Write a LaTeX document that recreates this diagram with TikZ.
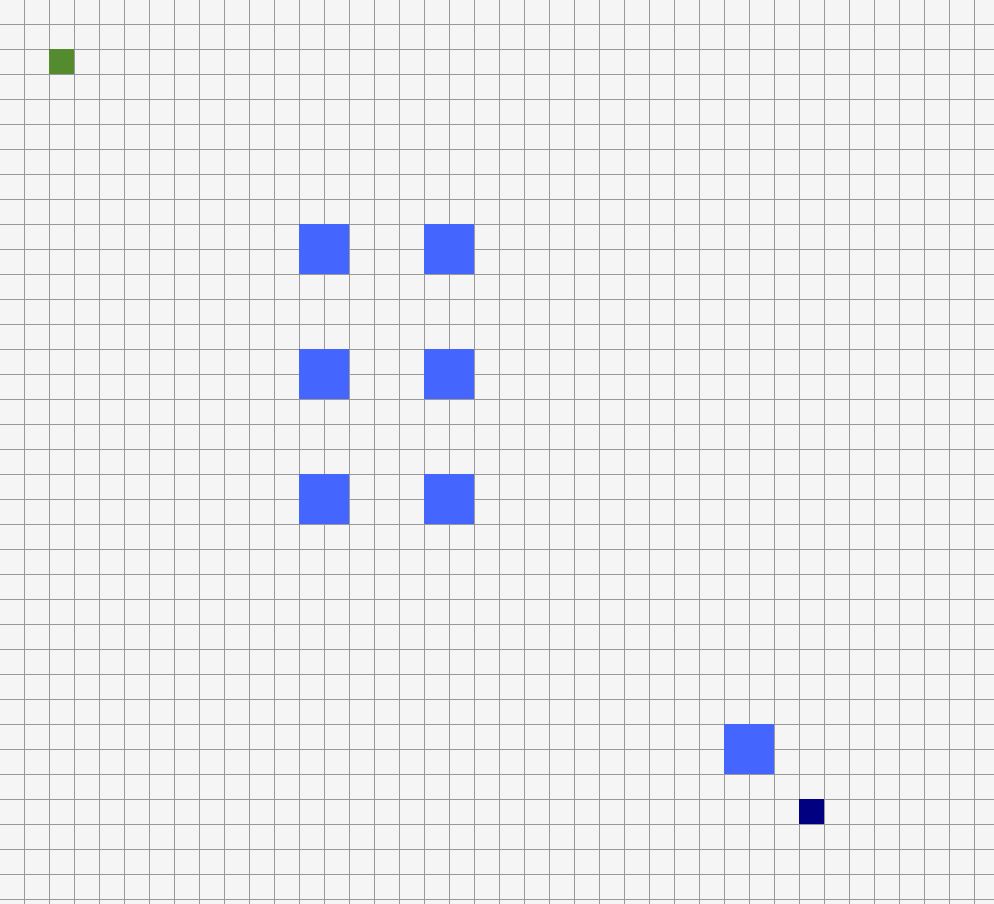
\documentclass[tikz,border=0pt]{standalone}
\definecolor{bg}{HTML}{F5F5F5}
\definecolor{gridc}{HTML}{999999}
\definecolor{greenc}{HTML}{558B2F}
\definecolor{bluec}{HTML}{4466FF}
\definecolor{navyc}{HTML}{000080}
\begin{document}
\begin{tikzpicture}[x=1pt,y=-1pt,
  gridline/.style={draw=gridc,line width=1.5pt},
  bluesq/.style={fill=bluec},
  greensq/.style={fill=greenc},
  navysq/.style={fill=navyc}]
\useasboundingbox (0,0) rectangle (994,904);
\fill[bg] (0,0) rectangle (994,904);
\foreach \i in {0,...,39} {
  \draw[gridline] ({24.5+25*\i},0) -- ({24.5+25*\i},904);
}
\foreach \j in {0,...,35} {
  \draw[gridline] (0,{24.5+25*\j}) -- (994,{24.5+25*\j});
}
\fill[greensq] (49,49) rectangle (74,74);
\foreach \x in {299,424} {
  \foreach \y in {224,349,474} {
    \fill[bluesq] (\x,\y) rectangle ++(50,50);
  }
}
\fill[bluesq] (724,724) rectangle (774,774);
\fill[navysq] (799,799) rectangle (824,824);
\end{tikzpicture}
\end{document}
